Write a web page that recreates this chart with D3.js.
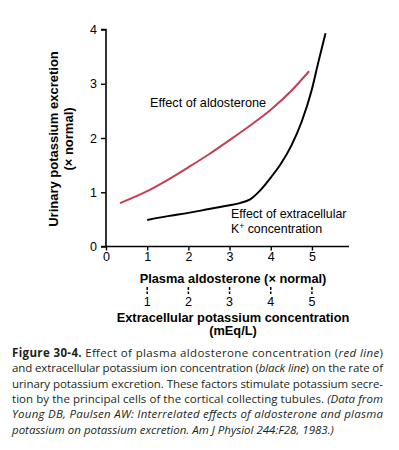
<!DOCTYPE html>
<html>
<head>
<meta charset="utf-8">
<script src="https://cdn.jsdelivr.net/npm/d3@7"></script>
<style>
  body { margin: 0; background: #fff; }
  svg { display: block; }
</style>
</head>
<body>
<script>
const width = 399, height = 450;

// red line: effect of aldosterone (x = plasma aldosterone, x normal)
const aldoX = [0.34, 1, 1.5, 2, 2.5, 3, 3.5, 4, 4.5, 4.93];
const aldoY = [0.8, 1.02, 1.23, 1.46, 1.7, 1.96, 2.23, 2.52, 2.87, 3.23];
// black line: effect of extracellular K+
const kX = [1, 1.5, 2, 2.5, 3, 3.25, 3.5, 3.75, 4, 4.25, 4.5, 4.75, 5, 5.15, 5.33];
const kY = [0.49, 0.56, 0.62, 0.69, 0.76, 0.8, 0.87, 1.04, 1.27, 1.53, 1.86, 2.3, 2.9, 3.38, 3.93];

const yTicks = [0, 1, 2, 3, 4];
const xTicks = [0, 1, 2, 3, 4, 5];
const kTicks = [1, 2, 3, 4, 5];

const caption = [
  [{t: "Figure 30-4.", b: true}, {t: " Effect of plasma aldosterone concentration ("}, {t: "red line", i: true}, {t: ")"}],
  [{t: "and extracellular potassium ion concentration ("}, {t: "black line", i: true}, {t: ") on the rate of"}],
  [{t: "urinary potassium excretion. These factors stimulate potassium secre-"}],
  [{t: "tion by the principal cells of the cortical collecting tubules. "}, {t: "(Data from", i: true}],
  [{t: "Young DB, Paulsen AW: Interrelated effects of aldosterone and plasma", i: true}],
  [{t: "potassium on potassium excretion. Am J Physiol 244:F28, 1983.)", i: true}]
];

const svg = d3.select("body").append("svg")
    .attr("width", width)
    .attr("height", height)
    .style("font-family", "Liberation Sans, Arial, sans-serif");

const x = d3.scaleLinear().domain([0, 5.9]).range([106, 349]);
const y = d3.scaleLinear().domain([0, 4]).range([246.5, 29.5]);

// axes
svg.append("g")
    .attr("transform", "translate(106,0)")
    .call(d3.axisLeft(y).tickValues(yTicks).tickFormat(d3.format("d")).tickSize(5).tickPadding(4))
    .call(g => g.select(".domain").attr("d", `M-5,${y(4)}H0V${y(0)}`).attr("stroke-width", 1.6))
    .call(g => g.selectAll(".tick line").attr("stroke-width", 1.4))
    .call(g => g.selectAll("text").attr("font-size", 12.5).attr("fill", "#000"));

svg.append("g")
    .attr("transform", `translate(0,${y(0)})`)
    .call(d3.axisBottom(x).tickValues(xTicks).tickFormat(d3.format("d")).tickSize(4).tickPadding(2))
    .call(g => g.select(".domain").attr("d", `M${x(0) - 5},0H${x(5.9)}`).attr("stroke-width", 1.6))
    .call(g => g.selectAll(".tick line").attr("stroke-width", 1.4))
    .call(g => g.selectAll("text").attr("font-size", 12.5).attr("fill", "#000"));

// second x scale: extracellular K+ (broken ticks)
const kg = svg.append("g");
kg.selectAll("line").data(kTicks).join("line")
    .attr("x1", d => x(d)).attr("x2", d => x(d))
    .attr("y1", 287).attr("y2", 294)
    .attr("stroke", "#000").attr("stroke-width", 1.5)
    .attr("stroke-dasharray", "3,1.5");
kg.selectAll("text").data(kTicks).join("text")
    .attr("x", d => x(d)).attr("y", 306)
    .attr("text-anchor", "middle").attr("font-size", 12.5)
    .text(d => d);

// axis titles
svg.append("text").attr("x", 233).attr("y", 283).attr("text-anchor", "middle")
    .attr("font-size", 12.8).attr("font-weight", "bold")
    .text("Plasma aldosterone (\u00d7 normal)");
svg.append("text").attr("x", 233).attr("y", 321.5).attr("text-anchor", "middle")
    .attr("font-size", 12.8).attr("font-weight", "bold")
    .text("Extracellular potassium concentration");
svg.append("text").attr("x", 233).attr("y", 335).attr("text-anchor", "middle")
    .attr("font-size", 12.8).attr("font-weight", "bold")
    .text("(mEq/L)");

const yl = svg.append("text")
    .attr("transform", "translate(58,139) rotate(-90)")
    .attr("text-anchor", "middle").attr("font-size", 13).attr("font-weight", "bold");
yl.append("tspan").attr("x", 0).attr("dy", 0).text("Urinary potassium excretion");
yl.append("tspan").attr("x", 0).attr("dy", 15).text("(\u00d7 normal)");

// curves
const line = d3.line().curve(d3.curveMonotoneX)
    .x(d => x(d[0])).y(d => y(d[1]));

svg.append("path")
    .attr("d", line(d3.zip(aldoX, aldoY)))
    .attr("fill", "none").attr("stroke", "#c24052").attr("stroke-width", 2);

svg.append("path")
    .attr("d", line(d3.zip(kX, kY)))
    .attr("fill", "none").attr("stroke", "#000").attr("stroke-width", 2);

// curve labels
svg.append("text").attr("x", 150).attr("y", 107).attr("font-size", 12.7)
    .text("Effect of aldosterone");
svg.append("text").attr("x", 231).attr("y", 218).attr("font-size", 12.4)
    .text("Effect of extracellular");
const kl = svg.append("text").attr("x", 231).attr("y", 233).attr("font-size", 12.4);
kl.append("tspan").text("K");
kl.append("tspan").attr("font-size", 8.5).attr("dy", -4).text("+");
kl.append("tspan").attr("dy", 4).text(" concentration");

// caption
const cap = svg.append("g").attr("fill", "#231f20")
    .style("font-family", "Open Sans, Liberation Sans, sans-serif");
caption.forEach((parts, i) => {
  const t = cap.append("text")
      .attr("x", 12).attr("y", 357 + i * 15.3)
      .attr("font-size", 11.5);
  parts.forEach(p => {
    t.append("tspan")
      .attr("font-weight", p.b ? "bold" : null)
      .attr("font-style", p.i ? "italic" : null)
      .text(p.t);
  });
  if (i < caption.length - 1) {
    t.attr("textLength", 371).attr("lengthAdjust", "spacing");
  }
});
</script>
</body>
</html>
